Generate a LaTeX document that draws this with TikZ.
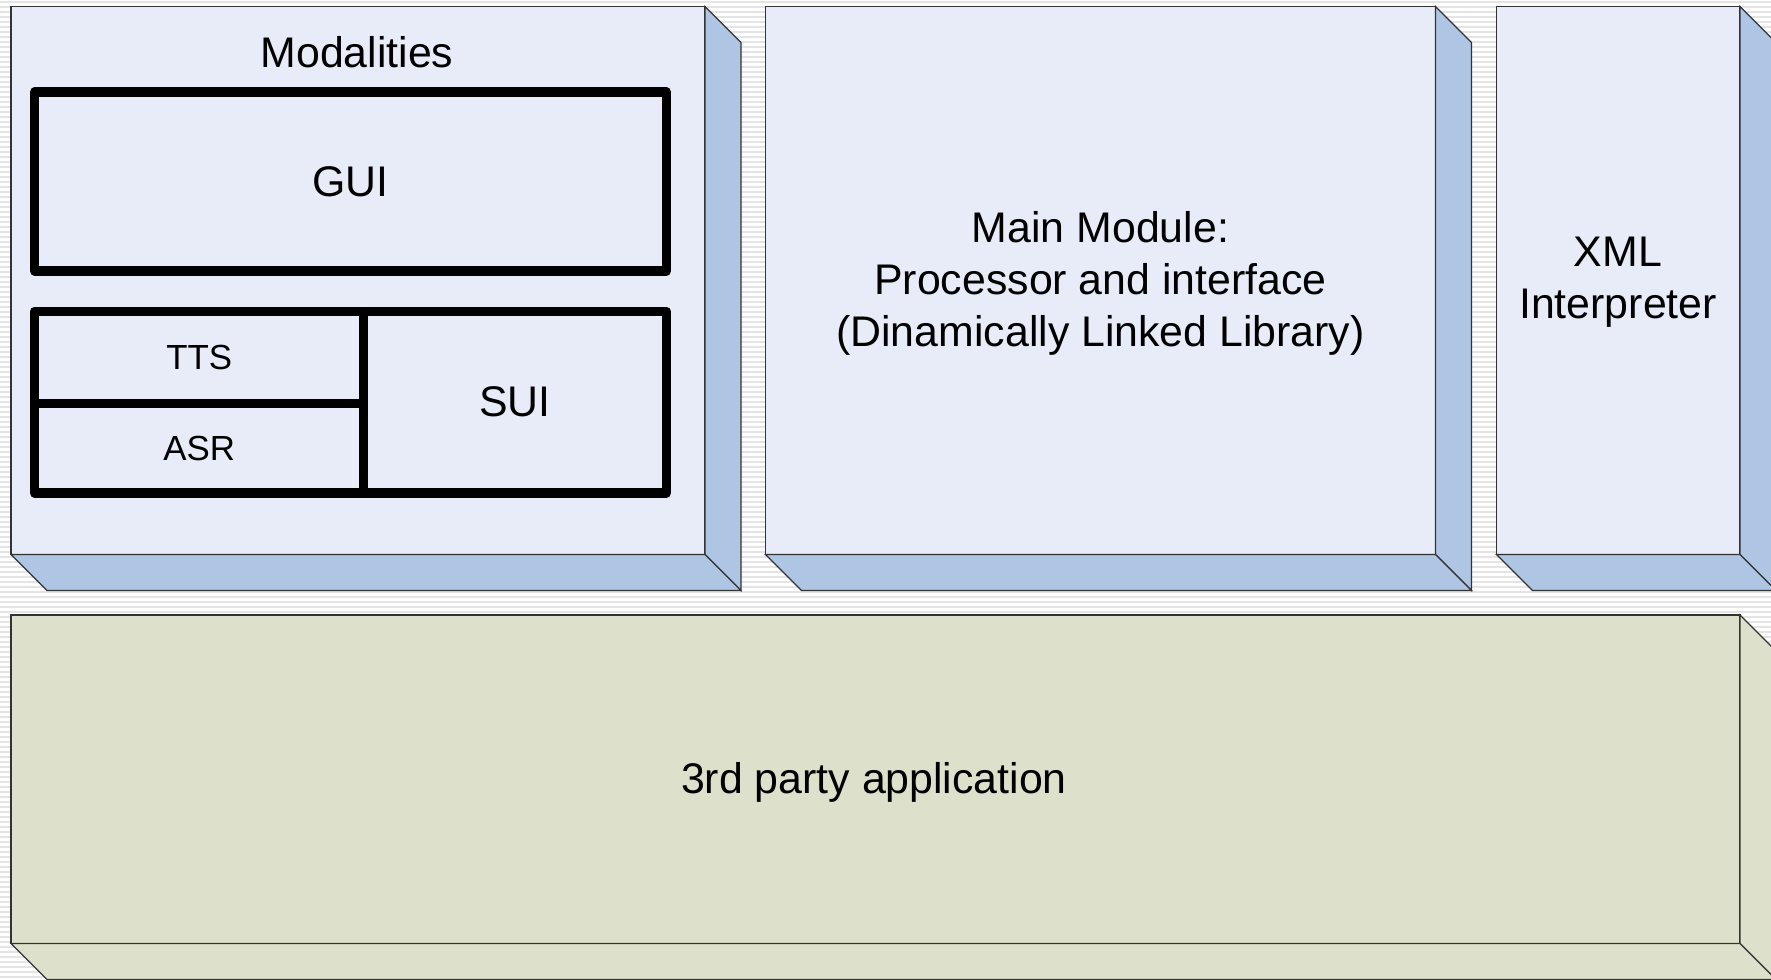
\documentclass[tikz,border=0pt]{standalone}
\usepackage{fontspec}
\setmainfont{Liberation Sans}
\definecolor{bluefront}{RGB}{232,236,248}
\definecolor{blueside}{RGB}{175,197,228}
\definecolor{greenface}{RGB}{221,225,203}
\definecolor{stripecol}{RGB}{228,228,228}
\tikzset{
  stripe/.style={draw=stripecol, line width=1.6bp},
  face/.style={draw=black!80, line width=1.2bp, line join=miter},
  frontbox/.style={face, rectangle, inner sep=0pt, outer sep=0pt, align=center,
    font=\fontsize{43}{52}\selectfont},
  cell/.style={draw=black, line width=9.3bp, line join=round, rectangle,
    inner sep=0pt, outer sep=0pt, fill=bluefront},
  bigtext/.style={font=\fontsize{43}{52}\selectfont},
  smalltext/.style={font=\fontsize{35}{40}\selectfont},
}
% side and bottom faces of a block, drawn behind its front face
\newcommand\depthfaces[2]{%
  \path[face, fill=#2] (#1.north east) -- ++(36,36)
    -- ([shift={(36,36)}]#1.south east) -- (#1.south east) -- cycle;
  \path[face, fill=#2] (#1.south west) -- (#1.south east)
    -- ([shift={(36,36)}]#1.south east) -- ([shift={(36,36)}]#1.south west) -- cycle;
}
\begin{document}
\begin{tikzpicture}[x=1bp, y=-1bp]
\useasboundingbox (0,0) rectangle (1771,979);
\clip (0,0) rectangle (1771,979);
% striped backdrop
\fill[white] (0,0) rectangle (1771,979);
\foreach \y in {2,7,...,979} \draw[stripe] (0,\y) -- (1771,\y);

% upper blocks
\node[frontbox, fill=bluefront, minimum width=694bp, minimum height=548bp] (mod) at (358,280.5) {};
\node[frontbox, fill=bluefront, minimum width=670bp, minimum height=548bp] (main) at (1100.5,280.5) {};
\node[bigtext, align=center] (maintext) at (1100.5,283.5)
  {Main Module:\\Processor and interface\\(Dinamically Linked Library)};
\node[frontbox, fill=bluefront, minimum width=243.5bp, minimum height=548bp] (xml) at (1618.25,280.5) {};
\node[bigtext, align=center] (xmltext) at (1618,282.5) {XML\\Interpreter};
\depthfaces{mod}{blueside}
\depthfaces{main}{blueside}
\depthfaces{xml}{blueside}

% lower block
\node[frontbox, fill=greenface, minimum width=1729bp, minimum height=328.5bp] (app) at (875.5,779.25) {};
\node[bigtext] (apptext) at (874,782) {3rd party application};
\depthfaces{app}{greenface}

% contents of the modalities block
\node[bigtext] (modlabel) at (357,52) {Modalities};
\node[cell, bigtext, minimum width=631.6bp, minimum height=179bp] (gui) at (350.5,181.5) {GUI};
\node[cell, smalltext, minimum width=329.1bp, minimum height=92.4bp] (tts) at (199.25,357.5) {TTS};
\node[cell, smalltext, minimum width=329.1bp, minimum height=89.3bp] (asr) at (199.25,448.35) {ASR};
\node[cell, bigtext, minimum width=302.5bp, minimum height=181.7bp] (sui) at (515.05,402.15) {SUI};
\end{tikzpicture}
\end{document}
